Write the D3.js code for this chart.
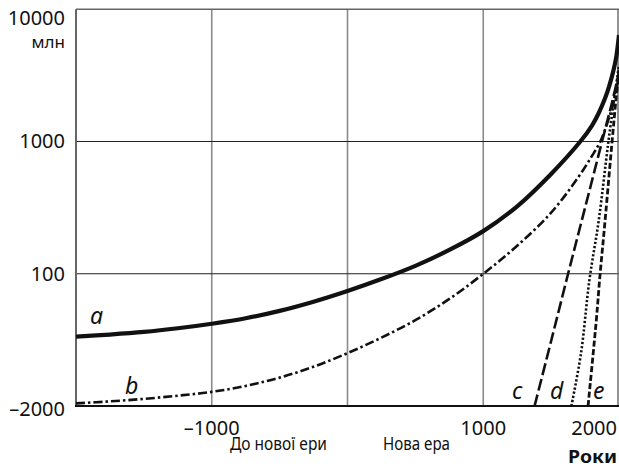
<!DOCTYPE html>
<html><head><meta charset="utf-8">
<script src="https://cdn.jsdelivr.net/npm/d3@7"></script>
<style>body{margin:0;background:#fff}svg{display:block}text{font-family:"Noto Sans",sans-serif;fill:#111}</style>
</head><body>
<svg id="c" width="619" height="468"></svg>
<script>
// Data (years, population in millions, log scale)
const yearsA = [-2000,-1750,-1500,-1250,-1000,-750,-500,-250,0,250,500,750,1000,1250,1500,1715,1800,1850,1900,1930,1960,1980,2000];
const valsA  = [33.5,34.7,36.3,38.7,41.9,46.1,52.4,61.5,74.1,91.2,114.8,151.4,210.1,323.6,568.9,1000,1315,1637,2158,2673,3475,4375,6383];
const yearsB = [-2000,-1750,-1500,-1250,-1000,-750,-500,-250,0,250,500,750,1000,1250,1500,1700,1800,1862,1930,1970,2000];
const valsB  = [10.47,10.84,11.32,11.97,12.79,14.19,16.39,19.82,25.1,32.9,44.6,64.5,99.9,162.9,289.7,537,776,1000,1549,2188,3467];
const yearsC = [1378,1500,1625,1750,1875,1950,2000];
const valsC  = [10,31,100,316,1000,2000,3300];
const yearsD = [1649,1720,1782,1850,1922,1970,2000];
const valsD  = [10,25,89.6,250,1000,2300,3800];
const yearsE = [1772,1833,1857,1900,1949,1980,2000];
const valsE  = [10,44.7,89.6,270,1000,2200,3500];
const yTickLabels = ["–2000","100","1000","10000"];
const xGrid = [-1000,0,1000];
const xTicks = [-1000,1000,2000];
const xTickLabels = ["–1000","1000","2000"];
const seriesNames = ["a","b","c","d","e"];

const svg = d3.select("#c");
const x = d3.scaleLinear().domain([-2000,2000]).range([76,619]);
const y = d3.scaleLog().domain([10,10000]).range([406,9.3]);

// grid
svg.append("g").selectAll("line").data(xGrid).join("line")
  .attr("x1",d=>x(d)).attr("x2",d=>x(d)).attr("y1",y(10000)).attr("y2",y(10))
  .attr("stroke","#8a8a8a").attr("stroke-width",1.6);
svg.append("g").selectAll("line").data([100,1000]).join("line")
  .attr("x1",x(-2000)).attr("x2",x(2000)).attr("y1",d=>y(d)).attr("y2",d=>y(d))
  .attr("stroke","#222").attr("stroke-width",1.1);
// frame
svg.append("line").attr("x1",x(-2000)).attr("x2",619).attr("y1",y(10000)).attr("y2",y(10000)).attr("stroke","#666").attr("stroke-width",1.6);
svg.append("line").attr("x1",618).attr("x2",618).attr("y1",y(10000)).attr("y2",y(10)).attr("stroke","#666").attr("stroke-width",1.4);
svg.append("line").attr("x1",x(-2000)).attr("x2",x(-2000)).attr("y1",y(10000)).attr("y2",y(10)).attr("stroke","#666").attr("stroke-width",2);
svg.append("line").attr("x1",x(-2000)-1).attr("x2",619).attr("y1",y(10)).attr("y2",y(10)).attr("stroke","#111").attr("stroke-width",1.8);

const line = d3.line().x(d=>x(d[0])).y(d=>y(d[1])).curve(d3.curveCatmullRom.alpha(0.5));
const zip = (a,b)=>a.map((v,i)=>[v,b[i]]);
svg.append("clipPath").attr("id","pc").append("rect").attr("x",x(-2000)).attr("y",0).attr("width",619-x(-2000)).attr("height",y(10)+1);
const g = svg.append("g").attr("clip-path","url(#pc)");
const styles = [
  {d:zip(yearsA,valsA), w:4.2, dash:null},
  {d:zip(yearsB,valsB), w:2.6, dash:"9,3,2.5,3"},
  {d:zip(yearsC,valsC), w:2.6, dash:"12,4"},
  {d:zip(yearsD,valsD), w:2.6, dash:"2.2,2"},
  {d:zip(yearsE,valsE), w:2.8, dash:"6,2.5"}
];
styles.forEach(s=>{
  g.append("path").attr("d",line(s.d)).attr("fill","none").attr("stroke","#111")
   .attr("stroke-width",s.w).attr("stroke-dasharray",s.dash);
});

// series labels
const labPos = [[90,324],[125,394],[512,399],[550,399],[593,399]];
svg.selectAll(".sl").data(seriesNames).join("text").attr("class","sl")
  .attr("x",(d,i)=>labPos[i][0]).attr("y",(d,i)=>labPos[i][1])
  .attr("font-size",23).attr("font-style","italic").text(d=>d);

// y labels
const yLabY = [415.5, 280.5, 148, 25];
svg.selectAll(".yl").data(yTickLabels).join("text").attr("class","yl")
  .attr("x",65).attr("y",(d,i)=>yLabY[i]).attr("text-anchor","end").attr("font-size",20).text(d=>d);
svg.append("text").attr("x",65).attr("y",48).attr("text-anchor","end").attr("font-size",17).text("млн");

// x labels
svg.selectAll(".xl").data(xTicks).join("text").attr("class","xl")
  .attr("x",d=>d===2000?617:x(d)).attr("y",435)
  .attr("text-anchor",d=>d===2000?"end":"middle").attr("font-size",20)
  .text((d,i)=>xTickLabels[i]);
svg.append("text").attr("x",230).attr("y",450).attr("font-size",18)
  .attr("textLength",97).attr("lengthAdjust","spacingAndGlyphs").text("До нової ери");
svg.append("text").attr("x",383).attr("y",450).attr("font-size",18)
  .attr("textLength",67).attr("lengthAdjust","spacingAndGlyphs").text("Нова ера");
svg.append("text").attr("x",568).attr("y",463).attr("font-size",18).attr("font-weight","bold")
  .attr("textLength",49).attr("lengthAdjust","spacingAndGlyphs").text("Роки");
</script>
</body></html>
